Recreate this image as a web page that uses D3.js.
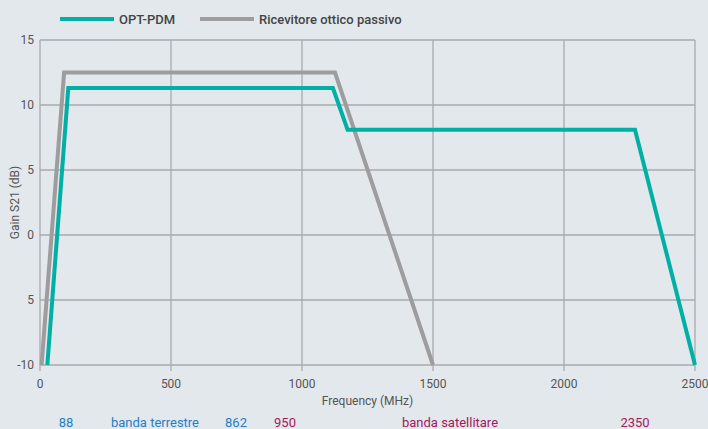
<!DOCTYPE html>
<html>
<head>
<meta charset="utf-8">
<script src="https://cdn.jsdelivr.net/npm/d3@7"></script>
<style>
  body { margin: 0; background: #e2e8eb; }
  svg { display: block; font-family: Roboto, "Noto Sans", sans-serif; }
</style>
</head>
<body>
<svg width="708" height="429"></svg>
<script>
const seriesNames = ["OPT-PDM", "Ricevitore ottico passivo"];
const seriesColors = ["#00b0a5", "#9d9d9f"];
const optFreq = [28, 108, 1118, 1174, 2271, 2500];
const optGain = [-10, 11.3, 11.3, 8.1, 8.1, -10];
const rxFreq = [6, 92, 1126, 1500];
const rxGain = [-10, 12.5, 12.5, -10];
const xTicks = [0, 500, 1000, 1500, 2000, 2500];
const yTicks = [15, 10, 5, 0, -5, -10];
const yTickLabels = ["15", "10", "5", "0", "5", "-10"];
const bandTexts = ["88", "banda terrestre", "862", "950", "banda satellitare", "2350"];
const bandColors = ["#1f7fc8", "#1f7fc8", "#1f7fc8", "#a3195b", "#a3195b", "#a3195b"];

const svg = d3.select("svg");
const mLeft = 40, mRight = 695, mTop = 40, mBottom = 365;

const x = d3.scaleLinear().domain([0, 2500]).range([mLeft, mRight]);
const y = d3.scaleLinear().domain([-10, 15]).range([mBottom, mTop]);

const grid = svg.append("g");
grid.selectAll("line.h")
  .data(yTicks)
  .join("line")
  .attr("class", "h")
  .attr("x1", mLeft).attr("x2", mRight)
  .attr("y1", d => y(d)).attr("y2", d => y(d))
  .attr("stroke", "#a9abad").attr("stroke-width", 1.3);
grid.selectAll("line.v")
  .data(xTicks)
  .join("line")
  .attr("class", "v")
  .attr("x1", d => x(d)).attr("x2", d => x(d))
  .attr("y1", mTop).attr("y2", mBottom + 6)
  .attr("stroke", "#a9abad").attr("stroke-width", 1.3);

// tick labels
svg.append("g").selectAll("text")
  .data(yTicks)
  .join("text")
  .attr("x", mLeft - 6).attr("y", d => y(d) + 4)
  .attr("text-anchor", "end")
  .attr("font-size", 12).attr("fill", "#555")
  .text((d, i) => yTickLabels[i]);

svg.append("g").selectAll("text")
  .data(xTicks)
  .join("text")
  .attr("x", d => x(d)).attr("y", mBottom + 23)
  .attr("text-anchor", "middle")
  .attr("font-size", 12).attr("fill", "#555")
  .text(d => d);

svg.append("text")
  .attr("x", (mLeft + mRight) / 2).attr("y", mBottom + 40)
  .attr("text-anchor", "middle")
  .attr("font-size", 12).attr("fill", "#555")
  .text("Frequency (MHz)");

svg.append("text")
  .attr("transform", `translate(19,${(mTop + mBottom) / 2}) rotate(-90)`)
  .attr("text-anchor", "middle")
  .attr("font-size", 12).attr("fill", "#555")
  .text("Gain S21 (dB)");

// lines
const line = d3.line().x(d => x(d[0])).y(d => y(d[1]));
const series = [d3.zip(rxFreq, rxGain), d3.zip(optFreq, optGain)];
const order = [1, 0];

svg.append("g").selectAll("path")
  .data(series)
  .join("path")
  .attr("d", line)
  .attr("fill", "none")
  .attr("stroke", (d, i) => seriesColors[order[i]])
  .attr("stroke-width", 4)
  .attr("stroke-linejoin", "miter");

// legend
const legendX = [60, 200];
const lg = svg.append("g").selectAll("g")
  .data(seriesNames)
  .join("g")
  .attr("transform", (d, i) => `translate(${legendX[i]},19)`);
lg.append("line")
  .attr("x1", 0).attr("x2", 54)
  .attr("stroke", (d, i) => seriesColors[i])
  .attr("stroke-width", 4);
lg.append("text")
  .attr("x", 59).attr("y", 5)
  .attr("font-size", 13).attr("font-weight", 500).attr("fill", "#444")
  .text(d => d);

// band annotations
const bandX = [66, 155, 236, 285, 450, 635];
svg.append("g").selectAll("text")
  .data(bandTexts)
  .join("text")
  .attr("x", (d, i) => bandX[i]).attr("y", 427)
  .attr("text-anchor", "middle")
  .attr("font-size", 13)
  .attr("fill", (d, i) => bandColors[i])
  .text(d => d);
</script>
</body>
</html>
